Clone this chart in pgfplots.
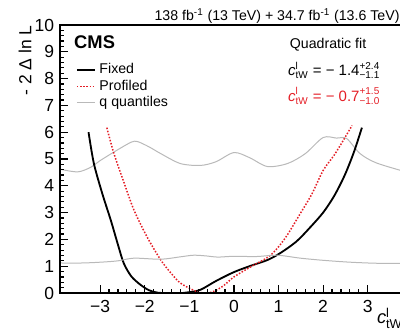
\documentclass[border=0pt]{standalone}
\usepackage{pgfplots}
\pgfplotsset{compat=1.18}
\usepackage{amsmath}
\usepackage{fontspec}
\setmainfont{Liberation Sans}
\definecolor{cmsred}{RGB}{228,30,38}
\definecolor{qgray}{RGB}{185,185,185}
\begin{document}
\begin{tikzpicture}
% visible region: the reference cuts the frame off on the right
\useasboundingbox (-36pt,-22.2pt) rectangle (204pt,175.8pt);
\begin{axis}[
    at={(0pt,0pt)}, anchor=south west,
    width=208.7pt, height=160.8pt,
    scale only axis,
    axis on top,
    xmin=-3.9, xmax=3.9,
    ymin=0, ymax=10,
    xtick={-3,-2,-1,0,1,2,3},
    ytick={0,1,2,3,4,5,6,7,8,9,10},
    xticklabels={−3,−2,−1,0,1,2,3},
    yticklabels={0,1,2,3,4,5,6,7,8,9,10},
    minor x tick num=4,
    minor y tick num=4,
    xtick pos=left, ytick pos=left,
    tick align=inside,
    major tick length=5pt, minor tick length=2.6pt,
    tick style={draw=black, line width=0.7pt},
    axis line style={line width=0.8pt},
    ticklabel style={font=\fontsize{10.5}{12}\selectfont},
    xticklabel style={yshift=-1pt},
    legend style={at={(rel axis cs:0.045,0.87)}, anchor=north west,
        draw=none, fill=none, font=\fontsize{8.5}{10}\selectfont,
        row sep=-1.8pt, inner sep=0pt},
    legend cell align=left,
    legend image code/.code={\draw[#1] (0pt,0pt) -- (11pt,0pt);},
]
% upper quantile
\addplot[qgray, line width=0.6pt, smooth, forget plot] coordinates {
(-3.9,4.62) (-3.5,4.52) (-3.2,4.7) (-3.0,4.94) (-2.6,5.35) (-2.3,5.63) (-2.16,5.65)
(-1.9,5.45) (-1.64,5.2) (-1.2,4.83) (-0.75,4.76) (-0.4,4.9) (0,5.24) (0.35,5.05)
(0.75,4.72) (1.2,4.83) (1.6,5.2) (2.0,5.8) (2.3,5.78) (2.53,5.76) (2.83,5.2)
(3.2,4.85) (3.9,4.5)};
\addplot[black, line width=1.1pt, smooth] coordinates {
(-3.26,6.0) (-3.14,4.83) (-2.95,3.7) (-2.76,2.71) (-2.6,1.8) (-2.47,1.11)
(-2.3,0.62) (-2.09,0.3) (-1.9,0.1) (-1.7,0.01) (-1.4,0.0) (-1.15,0.0) (-1.0,0.03)
(-0.75,0.12) (-0.4,0.45) (0,0.78) (0.4,1.03) (0.75,1.23) (1.04,1.49)
(1.4,1.92) (1.71,2.45) (2.0,3.0) (2.23,3.57) (2.4,4.1) (2.53,4.57) (2.7,5.3) (2.87,6.17)};
\addlegendentry{Fixed}
\addplot[cmsred, densely dotted, line width=0.9pt, smooth] coordinates {
(-2.85,6.17) (-2.69,5.2) (-2.45,4.05) (-2.24,3.09) (-1.95,2.1) (-1.64,1.23)
(-1.4,0.72) (-1.2,0.37) (-0.9,0.1) (-0.7,0.0) (-0.5,0.03) (-0.25,0.25) (0,0.6)
(0.4,1.0) (0.82,1.41) (1.15,2.05) (1.49,2.97) (1.75,3.7) (2.0,4.57) (2.25,5.15)
(2.45,5.69) (2.65,6.25)};
\addlegendentry{Profiled}
\addplot[qgray, line width=0.6pt, smooth] coordinates {
(-3.9,1.12) (-3.4,1.12) (-2.99,1.15) (-2.6,1.2) (-2.24,1.3) (-1.64,1.26)
(-1.2,1.35) (-0.9,1.41) (-0.6,1.38) (-0.37,1.34) (0,1.37) (0.5,1.36) (0.97,1.41)
(1.49,1.3) (2.0,1.22) (2.6,1.15) (3.2,1.11) (3.9,1.1)};
\addlegendentry{q quantiles}
\node[anchor=north west, font=\bfseries\fontsize{11}{13}\selectfont, inner sep=0pt]
    at (rel axis cs:0.04,0.96) {CMS};
\node[anchor=north west, font=\fontsize{8.5}{10}\selectfont, inner sep=0pt]
    at (rel axis cs:0.66,0.95) {Quadratic fit};
\node[anchor=west, font=\fontsize{9}{11}\selectfont, inner sep=0pt]
    at (rel axis cs:0.655,0.83)
    {\textit{c}$^{\text{l}}_{\text{tW}}$ = − 1.4$^{\text{+2.4}}_{\text{−1.1}}$};
\node[anchor=west, font=\fontsize{9}{11}\selectfont, text=cmsred, inner sep=0pt]
    at (rel axis cs:0.655,0.735)
    {\textit{c}$^{\text{l}}_{\text{tW}}$ = − 0.7$^{\text{+1.5}}_{\text{−1.0}}$};
\end{axis}
\node[anchor=base east, font=\fontsize{8.5}{10}\selectfont, inner sep=0pt]
    at (203.9pt,163.4pt) {138 fb$^{\text{-1}}$ (13 TeV) + 34.7 fb$^{\text{-1}}$ (13.6 TeV)};
\node[anchor=east, rotate=90, font=\fontsize{10.5}{12}\selectfont, inner sep=0pt]
    at (-21pt,160.8pt) {- 2 Δ ln L};
\node[anchor=base west, font=\fontsize{11}{13}\selectfont, inner sep=0pt]
    at (190pt,-18.5pt) {\textit{c}$^{\text{l}}_{\text{tW}}$};
\end{tikzpicture}
\end{document}
